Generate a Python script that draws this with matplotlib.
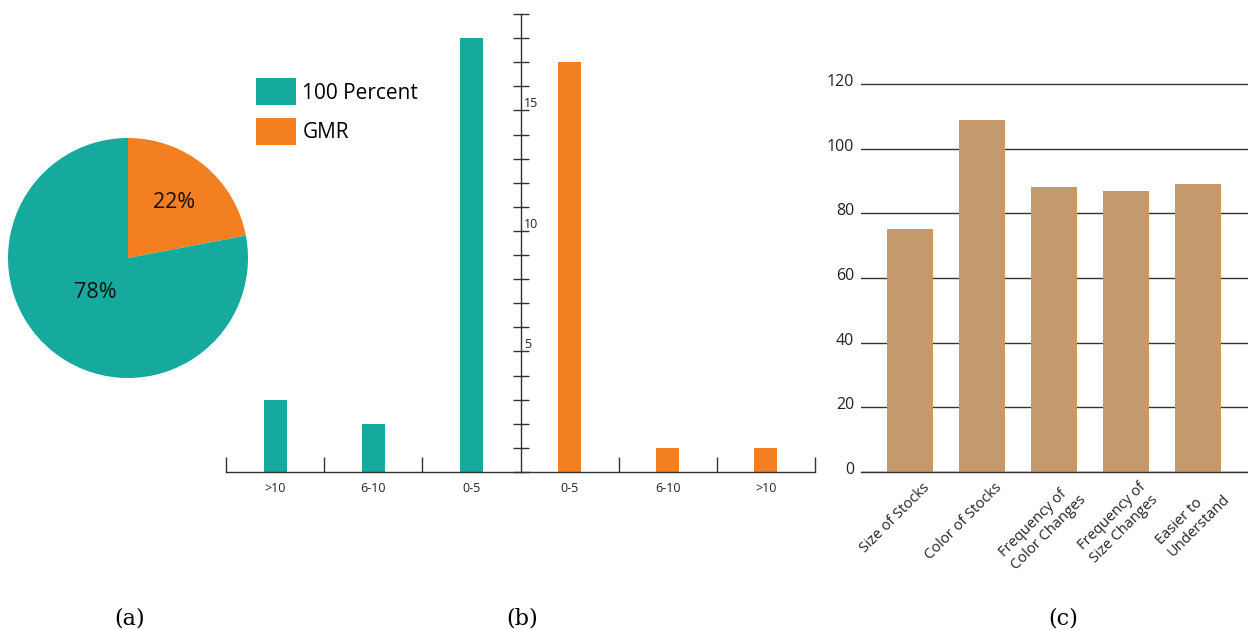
import matplotlib.pyplot as plt
import matplotlib.transforms as mtransforms
import numpy as np

# (a) pie shares
pie_labels = ['GMR', '100 Percent']
pie_values = [22, 78]

# (b) mirrored bar chart
groups = ['>10', '6-10', '0-5']
hundred_counts = [3, 2, 18]       # left side, teal
gmr_counts = [1, 1, 17]           # right side, orange (listed >10, 6-10, 0-5)

# (c) bar chart
features = ['Size of Stocks', 'Color of Stocks', 'Frequency of\nColor Changes',
            'Frequency of\nSize Changes', 'Easier to\nUnderstand']
feature_values = [75, 109, 88, 87, 89]

TEAL = '#15AA9D'
ORANGE = '#F47F20'
TAN = '#C49A6C'
DARK = '#333333'
W, H = 1248, 630

plt.rcParams['font.family'] = ['Open Sans', 'DejaVu Sans']

fig = plt.figure(figsize=(W / 100, H / 100), dpi=100)


def rect(left, top, right, bottom):
    return [left / W, 1 - bottom / H, (right - left) / W, (bottom - top) / H]


# ---- (a) pie ----
ax_pie = fig.add_axes(rect(8, 138, 248, 378))
wedges, texts, autotexts = ax_pie.pie(
    pie_values, colors=[ORANGE, TEAL], startangle=90, counterclock=False,
    autopct='%d%%', pctdistance=0.6, textprops={'fontsize': 15.5, 'color': '#111111'})
autotexts[1].set_position((-0.27, -0.29))
ax_pie.set_xlim(-1, 1)
ax_pie.set_ylim(-1, 1)
ax_pie.set_aspect('equal')
ax_pie.set_zorder(2)

# ---- (b) mirrored bars ----
ax_mid = fig.add_axes(rect(226, 14, 815, 472))
ax_mid.patch.set_visible(False)
pos = np.arange(len(groups))
left_x = -(len(groups) - pos) + 0.5      # -2.5, -1.5, -0.5
right_x = (len(groups) - pos) - 0.5      # 2.5, 1.5, 0.5
ax_mid.bar(left_x, hundred_counts, width=0.235, color=TEAL, label='100 Percent')
ax_mid.bar(right_x, gmr_counts, width=0.235, color=ORANGE, label='GMR')
ax_mid.set_xlim(-3, 3)
ax_mid.set_ylim(0, 19)
for s in ['top', 'right']:
    ax_mid.spines[s].set_visible(False)
ax_mid.spines['left'].set_position(('data', 0))
for s in ['left', 'bottom']:
    ax_mid.spines[s].set_color(DARK)
    ax_mid.spines[s].set_linewidth(1.0)

yt = np.arange(0, 20)
ax_mid.set_yticks(yt)
ax_mid.set_yticklabels([str(v) if v in (5, 10, 15) else '' for v in yt])
ax_mid.tick_params(axis='y', direction='inout', length=12, width=1.0, color=DARK,
                   labelsize=9, pad=-8.5)
for lab in ax_mid.get_yticklabels():
    lab.set_horizontalalignment('left')
    lab.set_verticalalignment('bottom')
    lab.set_color('#222222')

ax_mid.set_xticks([-3, -2, -1, 1, 2, 3])
ax_mid.set_xticklabels([])
ax_mid.tick_params(axis='x', which='major', direction='in', length=11, width=1.0, color=DARK)
ax_mid.set_xticks(list(left_x) + list(right_x[::-1]), minor=True)
ax_mid.set_xticklabels(groups + groups[::-1], minor=True)
ax_mid.tick_params(axis='x', which='minor', length=0, labelsize=9, pad=7, labelcolor='#222222')

ax_mid.legend(loc='upper left', bbox_to_anchor=(256 / W, 1 - 78 / H),
              bbox_transform=fig.transFigure, frameon=False, fontsize=15,
              handlelength=1.92, handleheight=1.65, handletextpad=0.3,
              labelspacing=0.58, borderpad=0, borderaxespad=0)

# ---- (c) feature bars ----
ax_r = fig.add_axes(rect(861, 472 - 122 * 388 / 120, 1248, 472))
xr = np.arange(len(features))
ax_r.bar(xr, feature_values, width=0.64, color=TAN, zorder=3)
ax_r.set_xlim(-0.68, 4.69)
ax_r.set_ylim(0, 122)
ax_r.set_yticks(np.arange(0, 121, 20))
ax_r.grid(axis='y', color=DARK, linewidth=1.0, zorder=0)
for s in ax_r.spines.values():
    s.set_visible(False)
ax_r.spines['bottom'].set_visible(True)
ax_r.spines['bottom'].set_color(DARK)
ax_r.spines['bottom'].set_linewidth(1.0)
ax_r.spines['bottom'].set_zorder(4)
ax_r.tick_params(axis='y', length=0, labelsize=11.5, pad=5, labelcolor='#222222')
ax_r.tick_params(axis='x', length=0, labelsize=10.5, pad=2, labelcolor='#222222')
ax_r.set_xticks(xr)
ax_r.set_xticklabels(features, rotation=45, ha='right', va='top',
                     rotation_mode='anchor', multialignment='left')
offset_x = mtransforms.ScaledTranslation(0.12, -0.05, fig.dpi_scale_trans)
for lab in ax_r.get_xticklabels():
    lab.set_transform(lab.get_transform() + offset_x)
offset_y = mtransforms.ScaledTranslation(0, 0.04, fig.dpi_scale_trans)
for lab in ax_r.get_yticklabels():
    lab.set_transform(lab.get_transform() + offset_y)

# captions
for x, t in [(130, '(a)'), (522, '(b)'), (1063, '(c)')]:
    fig.text(x / W, 1 - 618 / H, t, ha='center', va='center',
             fontsize=16, family='DejaVu Serif')

fig.savefig('out.png', dpi=100)
